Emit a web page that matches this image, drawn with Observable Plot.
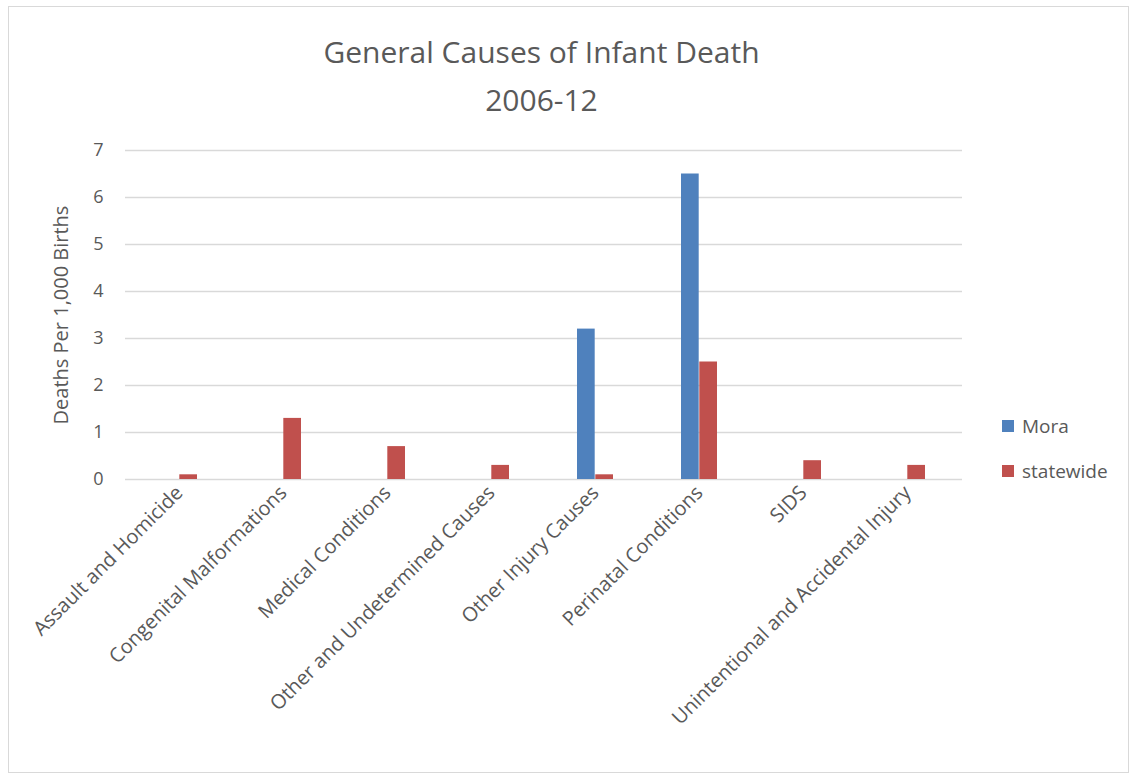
<!DOCTYPE html>
<html><head><meta charset="utf-8">
<script src="https://cdn.jsdelivr.net/npm/d3@7"></script>
<script src="https://cdn.jsdelivr.net/npm/@observablehq/plot@0.6"></script>
<style>
body{margin:0;background:#fff;font-family:"Open Sans",sans-serif}
#wrap{position:relative;width:1132px;height:775px}
#frame{position:absolute;left:8px;top:6px;width:1121px;height:767px;border:1px solid #d9d9d9;box-sizing:border-box}
#title{position:absolute;left:0;width:1083px;top:28px;text-align:center;color:#595959;font-size:30px;line-height:48px}
.leg{position:absolute;left:1002px;font-size:19px;color:#595959;display:flex;align-items:center}
.leg span{display:inline-block;width:12px;height:12px;margin-right:8px}
#chart{position:absolute;left:0;top:0}
</style></head><body>
<div id="wrap">
<div id="frame"></div>
<div id="title">General Causes of Infant Death<br>2006-12</div>
<div id="chart"></div>
<div class="leg" style="top:413px"><span style="background:#4f81bd"></span>Mora</div>
<div class="leg" style="top:458px"><span style="background:#c0504d"></span>statewide</div>
</div>
<script>
const causes = ["Assault and Homicide","Congenital Malformations","Medical Conditions","Other and Undetermined Causes","Other Injury Causes","Perinatal Conditions","SIDS","Unintentional and Accidental Injury"];
const mora = [0,0,0,0,3.2,6.5,0,0];
const statewide = [0.1,1.3,0.7,0.3,0.1,2.5,0.4,0.3];
const yTicks = [0,1,2,3,4,5,6,7];

const W = 1132, mL = 125, mR = 170, pad = 0.65;
const half = (W - mL - mR) / causes.length * (1 - pad) / 2;
const moraData = causes.map((c,i) => ({cause:c, v:mora[i]})).filter(d => d.v > 0);
const stateData = causes.map((c,i) => ({cause:c, v:statewide[i]}));

const chart = Plot.plot({
  width: W, height: 775,
  marginLeft: mL, marginRight: mR, marginTop: 150, marginBottom: 296,
  style: {fontFamily: "Open Sans", fontSize: "18px", color: "#595959"},
  x: {domain: causes, paddingInner: pad, paddingOuter: pad / 2},
  y: {domain: [0,7]},
  marks: [
    Plot.ruleY(yTicks, {stroke: "#d9d9d9", strokeWidth: 1.3}),
    Plot.barY(moraData, {x: "cause", y: "v", fill: "#4f81bd", insetRight: half}),
    Plot.barY(stateData, {x: "cause", y: "v", fill: "#c0504d", insetLeft: half}),
    Plot.axisX({label: null, tickRotate: -45, tickSize: 0, tickPadding: 10, fontSize: 20}),
    Plot.axisY({ticks: yTicks, tickFormat: "d", label: null, tickSize: 0, tickPadding: 22, fontSize: 18}),
    Plot.text(["Deaths Per 1,000 Births"], {frameAnchor: "left", textAnchor: "middle", dx: -64, rotate: -90, fontSize: 20, fill: "#595959"})
  ]
});
d3.select("#chart").append(() => chart);
</script>
</body></html>
